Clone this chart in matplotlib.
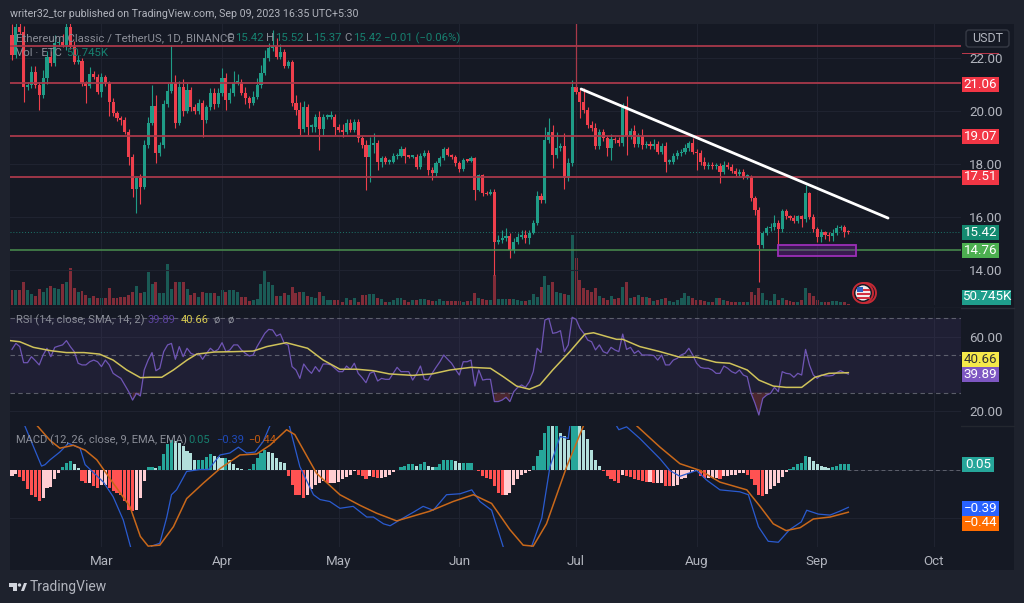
import numpy as np
import pandas as pd
import matplotlib
matplotlib.use('Agg')
import matplotlib.pyplot as plt
from matplotlib.patches import Rectangle, Circle, FancyBboxPatch, Polygon

plt.rcParams['font.family'] = ['Roboto', 'DejaVu Sans']

# Daily candles, 6 Feb 2023 to 9 Sep 2023
first_open = 22.87
close = [22.11, 23.18, 23.0, 20.9, 20.98, 21.49, 20.98, 20.6, 21.23, 22.05, 21.8, 22.55,
         22.6, 22.5, 23.18, 22.43, 21.86, 21.9, 21.05, 20.95, 21.4, 21.3, 20.73, 21.27,
         21.05, 20.33, 19.91, 19.72, 19.66, 19.22, 18.28, 17.05, 17.46, 17.15, 18.72, 19.56,
         20.2, 18.4, 18.72, 20.27, 20.77, 21.05, 19.56, 20.9, 20.01, 20.79, 20.16, 20.0,
         20.32, 19.66, 20.14, 20.67, 20.27, 20.67, 21.23, 20.42, 20.67, 21.07, 21.11, 20.69,
         20.48, 20.32, 20.54, 20.98, 21.45, 21.99, 22.37, 22.45, 22.05, 22.24, 21.71, 21.84,
         20.29, 20.04, 19.31, 20.16, 19.41, 19.41, 19.79, 19.31, 19.79, 19.79, 19.79, 19.41,
         19.3, 19.22, 19.54, 19.29, 19.6, 18.97, 18.72, 18.25, 18.72, 18.81, 18.09, 18.22,
         18.09, 18.09, 18.3, 18.3, 18.56, 18.3, 18.28, 18.28, 17.9, 18.3, 18.41, 17.78,
         17.65, 18.03, 18.22, 18.56, 18.34, 18.25, 18.03, 17.8, 18.15, 18.13, 18.22, 17.02,
         17.59, 16.9, 16.87, 16.96, 15.07, 15.13, 15.2, 15.3, 14.76, 15.07, 15.26, 15.32,
         15.22, 15.41, 15.79, 16.8, 16.64, 18.91, 19.22, 18.34, 18.59, 18.68, 17.46, 18.03,
         20.92, 20.73, 20.35, 20.04, 19.47, 19.35, 18.68, 19.22, 18.97, 18.59, 18.93, 18.91,
         18.78, 20.2, 19.06, 19.26, 18.76, 19.06, 18.72, 18.76, 18.68, 18.76, 18.47, 18.68,
         18.09, 18.09, 18.3, 18.41, 18.46, 18.59, 18.78, 18.46, 18.42, 18.08, 17.92, 17.96,
         17.92, 17.92, 17.71, 17.98, 17.9, 17.75, 17.64, 17.71, 17.52, 17.52, 16.7, 16.26,
         14.94, 15.41, 15.57, 15.61, 15.78, 15.53, 16.22, 16.03, 15.98, 15.86, 16.03, 15.91,
         16.89, 16.01, 15.53, 15.25, 15.44, 15.32, 15.28, 15.41, 15.57, 15.61, 15.43, 15.42]

upper_wick = [.4, .3, .3, .2, .1, .2, .2, .1, .3, .2, .2, .3,
              .2, .3, .2, .2, .2, .2, .1, .1, .25, .1, .1, .15,
              .1, .1, .15, .1, .1, .1, .1, .1, .1, .15, .2, .2,
              .78, .4, .1, .15, .3, 1.44, .3, .25, .3, .25, .1, .1,
              .15, .1, .1, .2, .2, .2, .4, .2, .2, .45, .3, .1,
              .2, .1, .2, .25, .3, .3, .2, .6, .3, .3, .1, .1,
              .1, .3, .3, .2, .1, .1, .1, .2, .1, .1, .2, .1,
              .1, .2, .15, .15, .1, .1, .1, .2, .3, .35, .1, .1,
              .1, .1, .1, .1, .12, .1, .05, .05, .1, .1, .12, .1,
              .1, .1, .1, .1, .08, .05, .1, .1, .08, .05, .08, .05,
              .05, .05, .1, .1, .1, .2, .3, .3, .1, .15, .15, .2,
              .2, .1, .1, .2, .1, .5, .51, .25, .6, .1, .5, .2,
              .25, .1, .1, .5, .1, .15, .2, .1, .1, .1, .2, .1,
              .1, .1, .35, .1, .2, .1, .25, .1, .1, .2, .1, .1,
              .15, .1, .1, .1, .1, .15, .1, .2, .1, .1, .2, .1,
              .1, .1, .1, .12, .1, .1, .1, .1, .1, .1, .05, .1,
              .1, .05, .1, .15, .3, .1, .1, .1, .05, .1, .05, .05,
              .31, .05, .1, .1, .1, .05, .1, .15, .12, .1, .1, .08]

lower_wick = [.2, .1, .1, .55, .1, .1, .1, .55, .1, .2, .1, .1,
              .1, .1, .2, .1, .1, .1, .1, .65, .1, .1, .1, .2,
              .1, .5, .1, .1, .2, .1, .3, .3, .9, .65, .1, .1,
              .1, .37, .1, .1, .1, .1, .2, .1, .2, .1, .15, .1,
              .1, .63, .1, .1, .2, .1, .1, .4, .1, .1, .1, .1,
              .2, .2, .1, .1, .1, .1, .1, .1, .1, .1, .1, .1,
              .1, .2, .2, .1, .3, .2, .2, .78, .2, .1, .1, .3,
              .1, .2, .1, .1, .1, .15, .1, 1.23, .94, .3, .3, .2,
              .1, .1, .05, .1, .05, .25, .05, .05, .1, .1, .05, .2,
              .25, .1, .1, .05, .05, .05, .1, .1, .05, .05, .05, .38,
              .05, .1, .05, .05, 1.26, .1, .1, .1, .32, .1, .1, .1,
              .2, .25, .05, .1, .1, .1, .1, .5, .1, .1, .41, .1,
              .1, .1, .6, .1, .1, .1, .1, .1, .1, .3, .45, .1,
              .1, .1, .72, .1, .1, .1, .15, .1, .1, .1, .1, .1,
              .38, .1, .1, .1, .1, .1, .1, .1, .65, .1, .1, .1,
              .1, .1, .44, .1, .1, .1, .1, .1, .1, .1, .1, .2,
              1.38, .1, .1, .1, .1, .59, .1, .1, .1, .1, .1, .3,
              .1, .1, .1, .2, .2, .15, .2, .2, .1, .05, .2, .05]

volume_k = [900, 900, 900, 1360, 900, 660, 560, 960, 760, 1000, 1160, 1000,
            960, 1240, 1360, 2200, 1040, 760, 840, 600, 440, 520, 440, 440,
            400, 1000, 440, 440, 500, 480, 600, 760, 1120, 700, 760, 1960,
            1240, 1360, 720, 720, 2440, 960, 1360, 1360, 1360, 960, 600, 720,
            480, 760, 700, 700, 700, 560, 880, 760, 920, 920, 760, 500,
            480, 240, 280, 360, 1240, 2120, 1360, 1200, 560, 560, 700, 600,
            1080, 720, 760, 760, 560, 480, 440, 760, 520, 280, 280, 320,
            300, 200, 400, 300, 400, 200, 600, 600, 640, 660, 440, 360,
            200, 200, 280, 400, 400, 300, 200, 300, 280, 340, 340, 320,
            240, 240, 360, 240, 240, 240, 240, 240, 200, 240, 240, 700,
            400, 340, 280, 280, 1800, 360, 360, 360, 360, 360, 300, 260,
            260, 300, 660, 500, 1100, 1760, 1200, 1400, 800, 700, 640, 600,
            4200, 2800, 1500, 1000, 900, 800, 1000, 560, 440, 300, 560, 360,
            400, 1100, 1400, 440, 500, 600, 480, 480, 440, 240, 300, 360,
            400, 240, 200, 300, 400, 700, 560, 440, 300, 300, 240, 200,
            200, 400, 440, 300, 240, 160, 160, 160, 160, 160, 800, 600,
            1040, 700, 300, 240, 660, 300, 400, 300, 240, 160, 200, 300,
            1000, 700, 560, 280, 200, 160, 200, 240, 240, 200, 160, 50.745]

rsi = [53.1, 56.3, 54.6, 46, 46, 49.2, 47.1, 44.8, 50.1, 53.7, 49.2, 54.2,
       54.9, 55.5, 57.8, 54.6, 51.9, 45.7, 44.8, 44.8, 46.5, 47.4, 46.5, 43.9,
       47.4, 44.8, 40.3, 38.9, 37.6, 34.1, 30.5, 26, 29.6, 28.2, 42.1, 47.4,
       51.4, 41.7, 43, 51.9, 55.5, 56.3, 47.8, 54.6, 49.2, 53.7, 51, 50.1,
       51, 47.8, 51, 53.7, 51.9, 53.1, 56.7, 51.9, 52.8, 55.5, 55.5, 52.8,
       51, 49.6, 50.1, 54.6, 58.1, 61.7, 63.8, 63.5, 60.3, 61.3, 56.3, 55.5,
       43.9, 42.1, 37.6, 45.3, 42.4, 40.3, 43.9, 41.2, 45.3, 45.3, 44.8, 43,
       41.2, 41.2, 44.2, 42.4, 45.7, 40.3, 38, 35.3, 40.3, 41.2, 36.2, 37.6,
       37.1, 37.1, 40.3, 43.5, 41.2, 41.2, 41.2, 36.7, 40, 44.2, 37.1, 36.7,
       40.3, 43.5, 46.5, 50.1, 47.8, 45.7, 42.4, 39.4, 46.5, 46.5, 47.4, 33.5,
       42.1, 36.7, 37.1, 37.1, 25.2, 25.2, 26, 27.5, 25.2, 30.5, 32.8, 34.1,
       32.8, 35.8, 41.2, 53.7, 51.4, 68.8, 69.7, 61.7, 62.1, 63.1, 51.9, 55.5,
       70.3, 69.2, 64.4, 61.7, 58.1, 57.2, 52.8, 55.5, 51.9, 51, 54.2, 52.8,
       51.9, 61.3, 53.1, 54.2, 51, 52.4, 50.1, 50.1, 50.1, 49.8, 47.4, 50.1,
       44.8, 44.8, 47.4, 48.3, 50.1, 51, 53.7, 50.1, 45.7, 43.5, 43, 43,
       42.1, 40.3, 40.3, 44.2, 43, 41.2, 40.3, 42.1, 39.4, 38.5, 29.6, 24.3,
       18, 26.9, 28.7, 29.6, 32.8, 30.5, 41.2, 40.3, 40, 38.2, 40.3, 39.4,
       53.1, 44.8, 39.4, 37.6, 39.4, 39, 38.9, 39.2, 40.7, 41.7, 40.7, 39.89]

rsi_ma_day = [-0.5, 2, 5.5, 10, 14, 18.5, 22.5, 26, 29.5, 33, 35.5, 38.5, 41.5, 45, 47.5, 52, 57, 62, 65.5,
              70.5, 76, 80, 84.3, 88.6, 92.9, 97, 103, 108, 112.6, 118, 123, 126.3, 129.7, 133, 135.7, 139,
              143.4, 147.3, 149.5, 153, 155.4, 157, 161.4, 166.6, 171.7, 176, 181, 184.5, 189, 192, 195.7,
              199, 203, 206.4, 210, 215]
rsi_ma = [57.8, 57.2, 54.2, 52.4, 51.4, 51.4, 50.6, 47.4, 42.1, 38, 38.2, 38.2, 42.1, 47.4, 50.6, 51.7, 51.9, 52.2, 54.6,
          56.7, 53.7, 47.4, 42.5, 42.5, 41.7, 40, 39.2, 40, 42.1, 43.5, 43, 38.5, 33.5, 31.8, 34.1, 42.1,
          51.9, 61.3, 62, 59.9, 58.5, 58.5, 54.6, 51.9, 48.9, 48.9, 46.2, 45.7, 42.1, 36.7, 33.5,
          32.8, 32.8, 38.2, 40.3, 40.66]

macd_day = [0, 3.3, 7.6, 8.5, 9.8, 12.3, 14.5, 17.5, 18.8, 23.5, 26, 28.6, 30.5, 33, 35.9, 38, 39.8, 41, 42.3, 44.9,
            48.3, 50.5, 53.5, 56, 58.2, 60.3, 62.5, 64.6, 66.3, 69, 71.3, 74, 77.5, 79.2, 81.7, 84.3, 87.7, 91.2,
            92.9, 95.5, 97.2, 99.7, 103.2, 105.7, 108.3, 111.7, 115.2, 118.2, 120.3, 123.3, 126.3, 129.7, 133.6,
            136.2, 138.3, 140.9, 143, 143.4, 149.4, 155.4, 156, 158, 161.4, 166.6, 169.1, 171.7, 176, 178.6, 182,
            187.1, 189.3, 191.9, 194.4, 197, 199.9, 202.9, 204.3, 207.3, 210.3, 212.8, 215]
macd = [.9, .45, .035, .05, .10, .18, .27, .22, .05, -.13, -.28, -.52, -.80, -1.1, -.79, -.76, -.49, -.26, -.21, -.02,
        0, 0, .15, .17, .23, .17, .18, .29, .45, .8, .45, .03, -.26, -.31, -.33, -.40, -.38, -.49,
        -.49, -.56, -.58, -.52, -.44, -.38, -.42, -.26, -.25, -.21, -.33, -.42, -.80, -1.07, -.79,
        -.50, .03, .34, .32, .45, .8, .45, .41, .44, .32, .11, -.01, -.07, -.01, -.11, -.21,
        -.23, -.26, -.59, -.74, -.75, -.62, -.54, -.42, -.46, -.47, -.43, -.39]

signal_day = [0, 6.5, 9.8, 12.3, 15.8, 18.8, 21.8, 26, 30.3, 33, 35, 38, 41.5, 44.9, 49.2, 53.5, 58.6, 62.9, 66.3,
              70.6, 72.7, 78.3, 84.3, 89.5, 93.7, 98.9, 107.4, 113.4, 118.6, 123.3, 128, 131.4, 134, 137.4, 142.6,
              146.9, 153.7, 160.6, 166.6, 171.7, 176.9, 182, 188.9, 192.3, 195.7, 199, 202.6, 206, 210.3, 215]
signal = [.9, .45, .30, .22, .25, .20, .10, -.14, -.38, -.69, -.79, -.78, -.59, -.30, -.14, .01, .15, .16, .25,
          .41, .36, -.04, -.26, -.37, -.45, -.53, -.43, -.33, -.26, -.35, -.62, -.78, -.79, -.56, .03,
          .45, .8, .45, .23, .06, -.01, -.13, -.21, -.38, -.56, -.63, -.60, -.51, -.49, -.44]

hist = [-.069, -.048, -.076, -.12, -.206, -.268, -.282, -.327, -.292, -.189, -.179, -.103,
        -.034, .028, .069, .086, .052, .017, -.12, -.144, -.144, -.165, -.189, -.155,
        -.155, -.189, -.224, -.241, -.258, -.327, -.42, -.43, -.413, -.292, -.12, .028,
        .028, .017, .041, .155, .258, .303, .292, .275, .241, .189, .172, .103,
        .103, .103, .131, .155, .138, .131, .12, .12, .103, .052, .017, .01,
        -.01, .01, .052, .12, .165, .2, .179, .165, .12, .076, .069, -.062,
        -.155, -.258, -.268, -.292, -.258, -.206, -.155, -.138, -.12, -.138, -.138, -.138,
        -.131, -.103, -.076, -.052, -.017, -.052, -.069, -.103, -.062, -.076, -.086, -.086,
        -.076, -.052, -.028, -.01, .028, .041, .052, .052, .041, .052, .076, .041,
        .028, .028, .052, .096, .103, .103, .086, .062, .069, .069, .069, -.01,
        -.017, -.069, -.086, -.103, -.172, -.241, -.268, -.258, -.241, -.155, -.103, -.052,
        -.034, -.017, .041, .138, .206, .378, .464, .447, .464, .378, .344, .303,
        .464, .464, .447, .406, .31, .206, .103, .041, -.017, -.069, -.103, -.12,
        -.144, -.052, -.062, -.076, -.096, -.11, -.12, -.131, -.131, -.144, -.144, -.138,
        -.165, -.172, -.165, -.155, -.103, -.086, -.034, -.028, -.017, -.069, -.086, -.086,
        -.086, -.086, -.096, -.062, -.062, -.052, -.052, -.041, -.041, -.052, -.103, -.155,
        -.258, -.275, -.248, -.206, -.172, -.138, -.076, -.028, .01, .028, .052, .062,
        .138, .131, .086, .052, .034, .021, .014, .028, .041, .055, .055, .055]

red_levels = [22.45, 21.06, 19.07, 17.51]
green_level = 14.76
last_price = 15.42
trend_day = [146.3, 225.2]
trend_price = [20.83, 15.96]
zone_day = [197, 217]
zone_price = [14.52, 14.94]
price_ticks = [14, 16, 18, 20, 22]
rsi_ticks = [20, 60]

BG = '#1e222d'
PANE = '#151924'
GRID = '#1f2330'
UP = '#1f9c87'
DOWN = '#ee3f4c'
TXT = '#b2b5be'
DIM = '#787b86'

close = np.array(close)
opens = np.r_[first_open, close[:-1]]
top = np.maximum(opens, close)
bot = np.minimum(opens, close)
high = top + np.array(upper_wick)
low = bot - np.array(lower_wick)
day = np.arange(len(close))
up = close >= opens
cols = np.where(up, UP, DOWN)

dates = pd.date_range('2023-02-06', periods=245)
month_pos = [i for i, d in enumerate(dates) if d.day == 1]
month_lab = [dates[i].strftime('%b') for i in month_pos]
xlim = (-0.51, 243.96)

W, H = 1024, 603
fig = plt.figure(figsize=(W / 100, H / 100), dpi=100, facecolor=BG)


def pane(y0, y1):
    a = fig.add_axes([10 / W, 1 - y1 / H, 951 / W, (y1 - y0) / H], facecolor=PANE)
    a.set_xlim(xlim)
    a.set_xticks(month_pos)
    a.grid(True, color=GRID, lw=0.8)
    a.set_axisbelow(True)
    for s in a.spines.values():
        s.set_visible(False)
    a.tick_params(length=0, labelbottom=False, labelleft=False)
    a.yaxis.tick_right()
    return a


# backing panel, behind everything
back = fig.add_axes([0, 0, 1, 1], zorder=-1)
back.set_xlim(0, W)
back.set_ylim(H, 0)
back.axis('off')
back.add_patch(Rectangle((10, 24), 1004, 546, fc=PANE, ec='none'))
back.plot([10, 1014], [308, 308], color='#2a2e39', lw=1)
back.plot([10, 1014], [426, 426], color='#23272f', lw=1)

# price pane
ax = pane(24, 305)
ax.set_ylim(12.68, 23.283)
vol = ax.twinx()
vol.set_ylim(0, 16860)
vol.axis('off')
vol.bar(day, volume_k, width=0.76, color=cols, alpha=0.5, lw=0)

# twinx moves the ticks back to the left, so the right side is set after it
ax.yaxis.tick_right()
ax.set_yticks(price_ticks)
ax.set_yticklabels([f'{t:.2f}' for t in price_ticks], color=TXT, fontsize=9.6)
ax.tick_params(axis='y', labelright=True, labelleft=False, pad=6, length=0)

ax.vlines(day, low, high, colors=cols, lw=0.8, zorder=3)
ax.bar(day, np.maximum(top - bot, 0.05), bottom=bot, width=0.8, color=cols, lw=0, zorder=4)
ax.set_zorder(vol.get_zorder() + 1)
ax.patch.set_visible(False)

for lv in red_levels:
    ax.axhline(lv, color='#a8394a', lw=1.3, zorder=5)
ax.axhline(green_level, color='#4a8f4f', lw=1.1, zorder=5)
ax.axhline(last_price, color=UP, lw=0.7, ls=(0, (1, 2)), alpha=0.7, zorder=2)
ax.plot([145, 145], [20.9, 23.283], color='#a8394a', lw=0.9, zorder=5)
ax.plot(trend_day, trend_price, color='white', lw=2, zorder=6, solid_capstyle='round')
ax.add_patch(Rectangle((zone_day[0], zone_price[0]), zone_day[1] - zone_day[0], zone_price[1] - zone_price[0],
                       fc='#7b1fa2', ec='#9c27b0', alpha=0.35, lw=0, zorder=6))
ax.add_patch(Rectangle((zone_day[0], zone_price[0]), zone_day[1] - zone_day[0], zone_price[1] - zone_price[0],
                       fc='none', ec='#9c2fb8', lw=1.3, zorder=6))

# rsi pane
ar = pane(308, 426)
ar.set_ylim(60 - (426 - 336.5) / 1.87, 60 + (336.5 - 308) / 1.87)
ar.set_yticks(rsi_ticks)
ar.set_yticklabels([f'{t:.2f}' for t in rsi_ticks], color=TXT, fontsize=9.6)
ar.tick_params(axis='y', labelright=True, pad=6)
ar.axhspan(30, 70, color='#7e57c2', alpha=0.1, lw=0)
for lv in (70, 50, 30):
    ar.axhline(lv, color=DIM, lw=0.8, ls=(0, (4, 3)), alpha=0.7)
ar.fill_between(day, rsi, 30, where=np.array(rsi) < 30, color='#ef5350', alpha=0.25, lw=0)
ar.plot(day, rsi, color='#6f55b5', lw=0.9)
ar.plot(rsi_ma_day, rsi_ma, color='#cfc25a', lw=1.1)

# macd pane
am = pane(426, 547)
am.set_ylim((469.5 - 547) / 97, (469.5 - 426) / 97)
am.set_yticks([-0.5, 0])
am.set_xticks(month_pos)
am.set_xticklabels(month_lab, color=TXT, fontsize=9.6)
am.tick_params(axis='x', labelbottom=True, pad=6)
hist = np.array(hist)
prev = np.r_[hist[0], hist[:-1]]
hcol = np.where(hist >= 0, np.where(hist >= prev, '#26a69a', '#b2dfdb'),
                np.where(hist < prev, '#ff5252', '#ffcdd2'))
am.bar(day, hist, width=0.8, color=hcol, lw=0)
am.axhline(0, color=DIM, lw=0.7, ls=(0, (4, 3)), xmin=0.88, alpha=0.7)
am.plot(macd_day, macd, color='#2a5bd0', lw=0.9)
am.plot(signal_day, signal, color='#c9681a', lw=1.1)

# overlay in pixel coordinates for labels and tags
ov = fig.add_axes([0, 0, 1, 1], zorder=20)
ov.set_xlim(0, W)
ov.set_ylim(H, 0)
ov.axis('off')
ov.patch.set_visible(False)


def tag(yc, text, bg, fg='white', x1=999, h=15):
    ov.add_patch(Rectangle((962, yc - h / 2), x1 - 962, h, fc=bg, ec='none'))
    ov.text((962 + x1) / 2, yc, text, color=fg, fontsize=9.6, ha='center', va='center')


def run(x, y, parts, size=8.2):
    # a row of text pieces, each at its own x
    for dx, s, c in parts:
        ov.text(x + dx, y, s, color=c, fontsize=size, va='center', ha='left')


tag(84, '21.06', '#f23645')
tag(136, '19.07', '#f23645')
tag(177, '17.51', '#f23645')
tag(232, '15.42', '#138a70')
tag(250, '14.76', '#4caf50')
tag(297, '50.745K', '#1f9e8c', x1=1011)
tag(359.5, '40.66', '#f5e94a', fg='#333')
tag(374.5, '39.89', '#7e57c2')
tag(464.5, '0.05', '#26a69a', x1=994)
tag(508, '\u22120.39', '#2962ff')
tag(523, '\u22120.44', '#ff6d00')
ov.add_patch(Rectangle((962, 52.5), 37, 1.6, fc='#b8384a', ec='none'))

ov.add_patch(FancyBboxPatch((966, 30), 43, 17, boxstyle='round,pad=0,rounding_size=3', fc=PANE, ec='#363a45', lw=1))
ov.text(987.5, 39, 'USDT', color=TXT, fontsize=9, ha='center', va='center')

run(10, 14, [(0, 'writer32_tcr published on TradingView.com, Sep 09, 2023 16:35 UTC+5:30', '#b2b5be')], size=7.7)

teal = '#17806f'
run(16, 38, [(0, 'Ethereum Classic / TetherUS, 1D, BINANCE', '#8a8d97'), (210, 'O', '#8a8d97'), (219, '15.42', teal),
             (250, 'H', '#8a8d97'), (259, '15.52', teal), (290, 'L', '#8a8d97'), (297, '15.37', teal),
             (328, 'C', '#8a8d97'), (337, '15.42', teal), (368, '\u22120.01 (\u22120.06%)', teal)], size=8.2)
run(16, 53, [(0, 'Vol \u00b7 ETC', '#8a8d97'), (50, '50.745K', teal)], size=8.2)
run(16, 320, [(0, 'RSI (14, close, SMA, 14, 2)', '#8a8d97'), (132, '39.89', '#5d44a0'), (165, '40.66', '#d8cb50'),
              (197, '\u00f8', '#8a8d97'), (211, '\u00f8', '#8a8d97')], size=8)
run(16, 440, [(0, 'MACD (12, 26, close, 9, EMA, EMA)', '#8a8d97'), (172, '0.05', teal), (200, '\u22120.39', '#1f49b8'),
              (232, '\u22120.44', '#c25a10')], size=8)

# flag badge
for cx in (866, 863):
    ov.add_patch(Circle((cx, 293), 10, fc=PANE, ec='#c62a35', lw=1.4))
ov.add_patch(Circle((863, 293), 7.5, fc='#f3e9e9', ec='none'))
for yy in (290, 294, 298):
    ov.add_patch(Rectangle((857, yy - 0.7), 12.5, 1.4, fc='#d23040', ec='none'))
ov.add_patch(Rectangle((857, 287), 6, 5, fc='#2f5fc0', ec='none'))

# TradingView logo
logo = '#d1d4dc'
ov.add_patch(Polygon([(9, 583), (17, 583), (17, 591), (13, 591), (13, 587), (9, 587)], fc=logo, ec='none'))
ov.add_patch(Circle((19.5, 585), 1.7, fc=logo, ec='none'))
ov.add_patch(Polygon([(21, 591), (24, 583), (27, 583), (24, 591)], fc=logo, ec='none'))
ov.text(30, 587.5, 'TradingView', color='#b2b5be', fontsize=10, va='center', ha='left')

fig.savefig('out.png', dpi=100, facecolor=BG)
